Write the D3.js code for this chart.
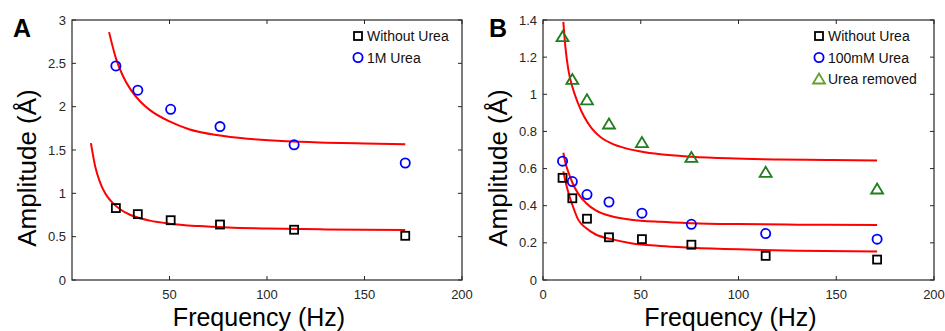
<!DOCTYPE html>
<html>
<head>
<meta charset="utf-8">
<script src="https://cdn.jsdelivr.net/npm/d3@7"></script>
<style>
  body { margin: 0; background: #fff; }
  svg { display: block; font-family: Arial, "Liberation Sans", sans-serif; }
</style>
</head>
<body>
<div id="chart"></div>
<script>
// ===== data =====
// panel A
var freqA = [22.5, 33.75, 50.6, 75.9, 113.9, 170.9];
var withoutUreaA = [0.83, 0.76, 0.69, 0.64, 0.58, 0.51];
var urea1M = [2.47, 2.19, 1.97, 1.77, 1.56, 1.35];
// fitted curves in A (read as points along the red lines)
var fitAUpperF = [19, 22.5, 26, 30, 35, 40, 50, 60, 75, 90, 110, 130, 150, 170.9];
var fitAUpperY = [2.86, 2.56, 2.36, 2.20, 2.06, 1.96, 1.83, 1.74, 1.67, 1.63, 1.60, 1.585, 1.575, 1.566];
var fitALowerF = [9.7, 12, 14, 17, 20, 25, 30, 40, 50, 65, 80, 100, 130, 170.9];
var fitALowerY = [1.58, 1.30, 1.15, 1.00, 0.91, 0.81, 0.75, 0.685, 0.65, 0.622, 0.606, 0.594, 0.584, 0.577];

// panel B
var freqB = [10, 15, 22.5, 33.75, 50.6, 75.9, 113.9, 170.9];
var withoutUreaB = [0.55, 0.44, 0.33, 0.23, 0.22, 0.19, 0.13, 0.11];
var urea100mM = [0.64, 0.53, 0.46, 0.42, 0.36, 0.30, 0.25, 0.22];
var ureaRemoved = [1.31, 1.08, 0.97, 0.84, 0.74, 0.66, 0.58, 0.49];
var fitBUpperF = [10.4, 11.5, 13, 15, 18, 21, 25, 30, 35, 42, 50, 60, 76, 95, 120, 145, 170.9];
var fitBUpperY = [1.39, 1.25, 1.13, 1.04, 0.95, 0.88, 0.815, 0.765, 0.736, 0.71, 0.692, 0.677, 0.664, 0.655, 0.649, 0.646, 0.643];
var fitBMidF = [10.4, 11.5, 13, 15, 18, 22, 27, 35, 45, 60, 76, 100, 130, 170.9];
var fitBMidY = [0.685, 0.63, 0.58, 0.525, 0.465, 0.415, 0.375, 0.343, 0.325, 0.313, 0.306, 0.301, 0.298, 0.296];
var fitBLowF = [10.4, 11.5, 13, 15, 18, 22, 27, 35, 45, 60, 76, 100, 130, 170.9];
var fitBLowY = [0.585, 0.53, 0.47, 0.405, 0.325, 0.28, 0.245, 0.22, 0.198, 0.183, 0.174, 0.165, 0.158, 0.153];

var xTicksA = [50, 100, 150, 200];
var yTicksA = [0, 0.5, 1, 1.5, 2, 2.5, 3];
var xTicksB = [0, 50, 100, 150, 200];
var yTicksB = [0, 0.2, 0.4, 0.6, 0.8, 1, 1.2, 1.4];

var axisColor = "#262626";

var svg = d3.select("#chart")
    .append("svg")
    .attr("width", 945)
    .attr("height", 331)

function zip(xs, ys){
    return xs.map(function(x, i){ return {x: x, y: ys[i]} })
}

function panel(opt){
    var x = d3.scaleLinear().domain([0, 200]).range([opt.left, opt.right])
    var y = d3.scaleLinear().domain(opt.yDomain).range([280, 20])
    var g = svg.append("g")

    // box
    g.append("rect")
        .attr("x", opt.left).attr("y", 20)
        .attr("width", opt.right - opt.left).attr("height", 260)
        .attr("fill", "none").attr("stroke", axisColor).attr("stroke-width", 1.2)

    // inward ticks on all four sides
    opt.xTicks.forEach(function(t){
        g.append("line").attr("x1", x(t)).attr("x2", x(t)).attr("y1", 280).attr("y2", 276)
            .attr("stroke", axisColor)
        g.append("line").attr("x1", x(t)).attr("x2", x(t)).attr("y1", 20).attr("y2", 24)
            .attr("stroke", axisColor)
    })
    opt.yTicks.forEach(function(t){
        g.append("line").attr("x1", opt.left).attr("x2", opt.left + 4).attr("y1", y(t)).attr("y2", y(t))
            .attr("stroke", axisColor)
        g.append("line").attr("x1", opt.right).attr("x2", opt.right - 4).attr("y1", y(t)).attr("y2", y(t))
            .attr("stroke", axisColor)
    })

    // tick labels
    g.selectAll(".xl").data(opt.xTicks).enter().append("text")
        .attr("x", function(d){ return x(d) })
        .attr("y", 298.5)
        .attr("text-anchor", "middle")
        .attr("font-size", "13px")
        .attr("fill", axisColor)
        .text(function(d){ return d })
    g.selectAll(".yl").data(opt.yTicks).enter().append("text")
        .attr("x", opt.left - 6)
        .attr("y", function(d){ return y(d) + 4.5 })
        .attr("text-anchor", "end")
        .attr("font-size", "13px")
        .attr("fill", axisColor)
        .text(function(d){ return d })

    // axis titles
    g.append("text")
        .attr("x", (opt.left + opt.right) / 2 - 8)
        .attr("y", 325.5)
        .attr("text-anchor", "middle")
        .attr("font-size", "25px")
        .attr("fill", "#000")
        .text("Frequency (Hz)")
    g.append("text")
        .attr("transform", "translate(" + (opt.left - 36) + ",168) rotate(-90)")
        .attr("text-anchor", "middle")
        .attr("font-size", "26px")
        .attr("fill", "#000")
        .text("Amplitude (Å)")

    // panel letter
    g.append("text")
        .attr("x", opt.letterX).attr("y", 37)
        .attr("font-size", "25px").attr("font-weight", "bold")
        .attr("fill", "#000")
        .text(opt.letter)

    // fitted curves
    var line = d3.line()
        .x(function(d){ return x(d.x) })
        .y(function(d){ return y(d.y) })
        .curve(d3.curveMonotoneX)
    opt.fits.forEach(function(f){
        g.append("path")
            .datum(zip(f[0], f[1]))
            .attr("d", line)
            .attr("fill", "none")
            .attr("stroke", "#ff0000")
            .attr("stroke-width", 2)
    })

    // markers
    opt.series.forEach(function(s){
        var sel = g.selectAll(null).data(zip(s.f, s.v)).enter()
        drawMarker(sel, s.shape, function(d){ return x(d.x) }, function(d){ return y(d.y) }, s.color)
    })

    // legend
    opt.series.forEach(function(s, i){
        var ly = 36 + i * 21.5
        var sel = g.selectAll(null).data([0]).enter()
        drawMarker(sel, s.shape, function(){ return opt.legendX }, function(){ return ly }, s.legendColor || s.color)
        g.append("text")
            .attr("x", opt.legendX + 9)
            .attr("y", ly + 5)
            .attr("font-size", "14px")
            .attr("fill", "#111")
            .text(s.name)
    })
}

function drawMarker(sel, shape, fx, fy, color){
    if (shape === "square") {
        sel.append("rect")
            .attr("x", function(d){ return fx(d) - 4 })
            .attr("y", function(d){ return fy(d) - 4 })
            .attr("width", 8).attr("height", 8)
            .attr("fill", "none").attr("stroke", color).attr("stroke-width", 1.8)
    } else if (shape === "circle") {
        sel.append("circle")
            .attr("cx", fx).attr("cy", fy).attr("r", 4.6)
            .attr("fill", "none").attr("stroke", color).attr("stroke-width", 1.8)
    } else {
        sel.append("path")
            .attr("d", function(d){
                var cx = fx(d), cy = fy(d)
                return "M" + (cx - 6) + "," + (cy + 4.5) + "L" + (cx + 6) + "," + (cy + 4.5) +
                    "L" + cx + "," + (cy - 5.5) + "Z"
            })
            .attr("fill", "none").attr("stroke", color).attr("stroke-width", 1.8)
    }
}

panel({
    left: 72, right: 462, yDomain: [0, 3],
    xTicks: xTicksA, yTicks: yTicksA,
    letter: "A", letterX: 13, legendX: 358,
    fits: [[fitAUpperF, fitAUpperY], [fitALowerF, fitALowerY]],
    series: [
        {name: "Without Urea", f: freqA, v: withoutUreaA, shape: "square", color: "#000"},
        {name: "1M Urea", f: freqA, v: urea1M, shape: "circle", color: "#0000ff"}
    ]
})

panel({
    left: 543, right: 934, yDomain: [0, 1.4],
    xTicks: xTicksB, yTicks: yTicksB,
    letter: "B", letterX: 489, legendX: 819,
    fits: [[fitBUpperF, fitBUpperY], [fitBMidF, fitBMidY], [fitBLowF, fitBLowY]],
    series: [
        {name: "Without Urea", f: freqB, v: withoutUreaB, shape: "square", color: "#000"},
        {name: "100mM Urea", f: freqB, v: urea100mM, shape: "circle", color: "#0000ff"},
        {name: "Urea removed", f: freqB, v: ureaRemoved, shape: "triangle", color: "#1e7d1e", legendColor: "#5fa02c"}
    ]
})
</script>
</body>
</html>
